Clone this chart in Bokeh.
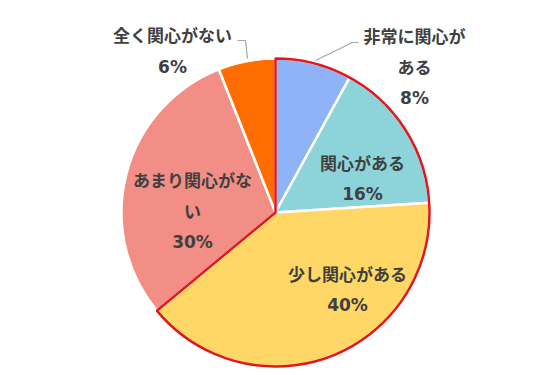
import math
from bokeh.plotting import figure
from bokeh.models import Range1d
from bokeh.core.properties import value
from bokeh.embed import file_html
from bokeh.resources import INLINE

# ---- data ----
categories = ["非常に関心がある", "関心がある", "少し関心がある", "あまり関心がない", "全く関心がない"]
values = [8, 16, 40, 30, 6]
colors = ["#8EB4F7", "#8DD4DA", "#FFD766", "#F28E86", "#FF6D00"]
label_lines = [["非常に関心が", "ある"],
               ["関心がある"],
               ["少し関心がある"],
               ["あまり関心がな", "い"],
               ["全く関心がない"]]
pct_labels = ["8%", "16%", "40%", "30%", "6%"]
# label anchor (pixel coords, top-left origin) of first line, and line spacing
label_pos = [(414, 35), (362, 162), (347, 273), (192, 179), (172, 34)]
line_gap = [31, 31, 31, 31, 32]
interested_count = 3  # first three slices outlined in red

W, H = 536, 375
cx, cy, R = 275, H - 212, 154

p = figure(width=W, height=H, x_range=Range1d(0, W), y_range=Range1d(0, H),
           output_backend="svg", toolbar_location=None, min_border=0)
p.axis.visible = False
p.grid.visible = False
p.outline_line_color = None
p.background_fill_color = "white"

total = sum(values)
cum = 0
starts, ends = [], []
for v in values:
    a0 = math.pi / 2 - 2 * math.pi * cum / total
    cum += v
    a1 = math.pi / 2 - 2 * math.pi * cum / total
    starts.append(a0)
    ends.append(a1)

p.wedge(x=[cx] * len(values), y=[cy] * len(values), radius=R,
        start_angle=ends, end_angle=starts, direction="anticlock",
        fill_color=colors, line_color="white", line_width=2.5)

# red outline around the "interested" group
p.wedge(x=[cx], y=[cy], radius=R, start_angle=[ends[interested_count - 1]],
        end_angle=[starts[0]], direction="anticlock",
        fill_color=None, line_color="#E3161C", line_width=2.5)

# leader lines
p.line(x=[315, 352, 358], y=[H - 60, H - 42, H - 42], line_color="#A6A6A6", line_width=1.2)
p.line(x=[237, 245, 247], y=[H - 40, H - 40, H - 58], line_color="#A6A6A6", line_width=1.2)

xs, ys, ts = [], [], []
pxs, pys = [], []
for lines, pct, (lx, ly), g in zip(label_lines, pct_labels, label_pos, line_gap):
    for i, t in enumerate(lines):
        xs.append(lx)
        ys.append(H - (ly + i * g))
        ts.append(t)
    pxs.append(lx)
    pys.append(H - (ly + len(lines) * g))

p.text(x=xs, y=ys, text=ts, text_align="center", text_baseline="middle",
       text_font=value("Noto Sans CJK JP"), text_font_style="bold",
       text_font_size="17px", text_color="#404040")
p.text(x=pxs, y=pys, text=pct_labels, text_align="center", text_baseline="middle",
       text_font=value("DejaVu Sans"), text_font_style="bold",
       text_font_size="17px", text_color="#404040")

open("out.html", "w").write(file_html(p, INLINE))
